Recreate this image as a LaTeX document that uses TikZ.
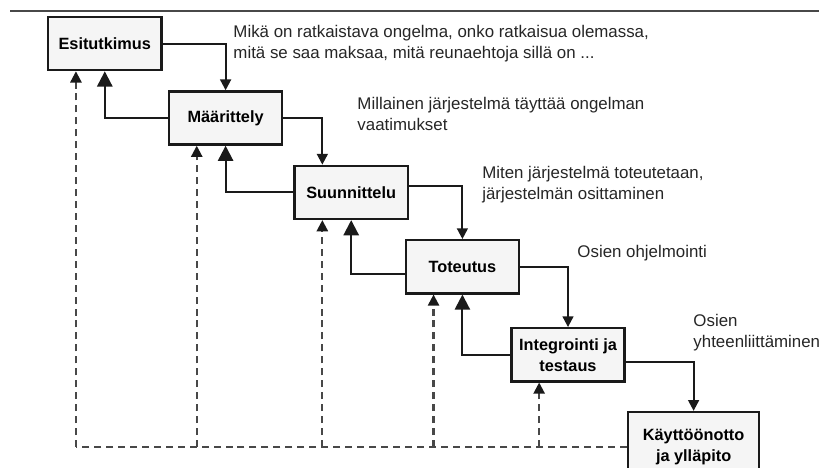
\documentclass[tikz,border=0pt]{standalone}
\usepackage{fontspec}
\setmainfont{Liberation Sans}
\usepackage{xcolor}
\usepackage{tikz}
\usetikzlibrary{calc, arrows.meta}
\tikzset{every node/.append style={font=\fontsize{12}{15}\selectfont}}
\definecolor{lineblack}{HTML}{1A1A1A}
\definecolor{dashgray}{HTML}{484848}
\definecolor{boxfill}{HTML}{F5F5F5}

\begin{document}
\begin{tikzpicture}[
    phase/.style={draw=lineblack, line width=1.6pt, fill=boxfill, minimum width=2.83cm, minimum height=1.33cm, align=center, inner sep=2pt, font=\fontsize{11.6}{14.9}\selectfont\bfseries},
    note/.style={anchor=west, align=left, inner sep=0pt, text=black!85},
    nextarr/.style={draw=lineblack, line width=1.5pt, -{Triangle[width=0.27cm,length=0.27cm]}},
    backarr/.style={draw=lineblack, line width=1.5pt, -{Triangle[width=0.38cm,length=0.38cm]}},
    reviewarr/.style={draw=dashgray, line width=1.5pt, dash pattern=on 5pt off 3.5pt, -{Triangle[width=0.28cm,length=0.28cm,color=lineblack]}}
]
    \clip (0,0) rectangle (20.475,11.7);
    \draw[dashgray, line width=1.1pt] (0.25,11.42) -- (20.475,11.42);
    % vaiheet
    \node[phase] (esi) at (2.62,10.61) {Esitutkimus};
    \node[phase] (maar) at (5.64,8.75) {Määrittely};
    \node[phase] (suun) at (8.78,6.89) {Suunnittelu};
    \node[phase] (tot) at (11.56,5.03) {Toteutus};
    \node[phase] (integ) at (14.2,2.83) {Integrointi ja\\ testaus};
    \node[phase, minimum width=3.28cm, minimum height=1.75cm] (kaytto) at (17.34,0.525) {Käyttöönotto\\ ja ylläpito};
    % selitykset
    \node[note] (n1) at (5.83,10.6) {Mikä on ratkaistava ongelma, onko ratkaisua olemassa,\\ mitä se saa maksaa, mitä reunaehtoja sillä on ...};
    \node[note] (n2) at (8.93,8.86) {Millainen järjestelmä täyttää ongelman\\ vaatimukset};
    \node[note] (n3) at (12.05,7.08) {Miten järjestelmä toteutetaan,\\ järjestelmän osittaminen};
    \node[note] (n4) at (14.43,5.38) {Osien ohjelmointi};
    \node[note] (n5) at (17.33,3.39) {Osien\\ yhteenliittäminen};
    % eteenpäin
    \draw[nextarr] (esi.east) -| (maar.north);
    \draw[nextarr] (maar.east) -| ($(suun.north west)!0.25!(suun.north east)$);
    \draw[nextarr] ([yshift=0.16cm]suun.east) -| (tot.north);
    \draw[nextarr] (tot.east) -| (integ.north);
    \draw[nextarr] ([yshift=-0.18cm]integ.east) -| (kaytto.north);
    % takaisin
    \draw[backarr] (maar.west) -| (esi.south);
    \draw[backarr] (suun.west) -| (maar.south);
    \draw[backarr] ([yshift=-0.18cm]tot.west) -| (suun.south);
    \draw[backarr] (integ.west) -| (tot.south);
    % ylläpidon palaute
    \foreach \b in {esi,maar,suun,tot,integ} {
        \coordinate (\b-d) at ($(\b.south west)!0.25!(\b.south east)$);
        \draw[reviewarr] (\b-d |- kaytto.west) -- (\b-d);
    }
    \draw[reviewarr, -] (kaytto.west) -- (esi-d |- kaytto.west);
\end{tikzpicture}
\end{document}
